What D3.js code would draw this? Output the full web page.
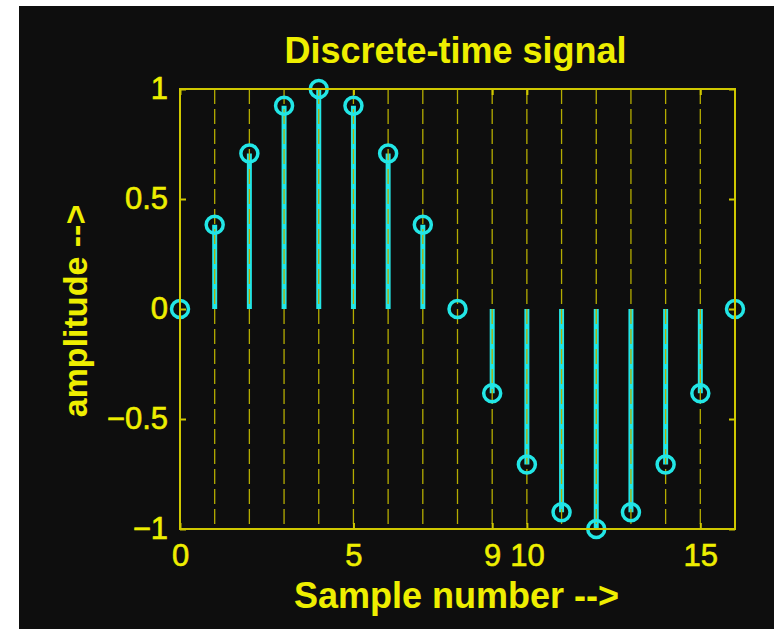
<!DOCTYPE html>
<html>
<head>
<meta charset="utf-8">
<script src="https://cdn.jsdelivr.net/npm/d3@7"></script>
<style>
body { margin: 0; background: #ffffff; }
svg { display: block; }
</style>
</head>
<body>
<div id="chart"></div>
<script>
// stem data
var samples = [0, 1, 2, 3, 4, 5, 6, 7, 8, 9, 10, 11, 12, 13, 14, 15, 16] ;
var amplitude = [0, 0.383, 0.707, 0.924, 1, 0.924, 0.707, 0.383, 0, -0.383, -0.707, -0.924, -1, -0.924, -0.707, -0.383, 0] ;
var xTickValues = [0, 5, 9, 10, 15] ;
var yTickValues = [-1, -0.5, 0, 0.5, 1] ;
var gridValues = [1, 2, 3, 4, 5, 6, 7, 8, 9, 10, 11, 12, 13, 14, 15] ;

var W = 774, H = 629 ;
var fontFamily = "'Liberation Sans', Arial, sans-serif" ;
var textColor = "#eeee00" ;
var axisColor = "#cfc800" ;
var gridColor = "#b4ac00" ;
var stemColor = "#22e6e6" ;

var svg = d3.select("#chart").append("svg")
    .attr("width", W)
    .attr("height", H) ;

//black figure background
svg.append("rect")
    .attr("x", 19)
    .attr("y", 6)
    .attr("width", W-19)
    .attr("height", H-6)
    .attr("fill", "#0e0e0e") ;

var axLeft = 180, axRight = 735, axTop = 89, axBottom = 529 ;

var x = d3.scaleLinear().domain([0, 16]).range([axLeft, axRight]) ;
var y = d3.scaleLinear().domain([-1, 1]).range([axBottom, axTop]) ;

//stems
svg.append("g").selectAll("line")
    .data(samples.filter(function(d, i) { return amplitude[i] != 0 ; }))
    .enter().append("line")
    .attr("x1", function(d) { return x(d) ; })
    .attr("x2", function(d) { return x(d) ; })
    .attr("y1", y(0))
    .attr("y2", function(d) { return y(amplitude[d]) ; })
    .attr("stroke", stemColor)
    .attr("stroke-width", 5) ;

//dashed grid, drawn over the stems like in the original
svg.append("g").selectAll("line")
    .data(gridValues)
    .enter().append("line")
    .attr("x1", function(d) { return x(d) ; })
    .attr("x2", function(d) { return x(d) ; })
    .attr("y1", axTop)
    .attr("y2", axBottom)
    .attr("stroke", gridColor)
    .attr("stroke-width", 1.3)
    .attr("stroke-dasharray", "15,5") ;

//markers
svg.append("g").selectAll("circle")
    .data(samples)
    .enter().append("circle")
    .attr("cx", function(d) { return x(d) ; })
    .attr("cy", function(d) { return y(amplitude[d]) ; })
    .attr("r", 8.5)
    .attr("fill", "none")
    .attr("stroke", stemColor)
    .attr("stroke-width", 3.5) ;

//axes
function style_axis(g, showLabels)
{
    g.select(".domain").remove() ;
    g.selectAll(".tick line")
	.attr("stroke", axisColor)
	.attr("stroke-width", 2) ;
    g.selectAll(".tick text")
	.attr("fill", textColor)
	.attr("font-family", fontFamily)
	.attr("font-size", "31px")
	.attr("stroke", textColor)
	.attr("stroke-width", 0.6)
	.style("display", showLabels ? null : "none") ;
}

function fmt(d)
{
    return String(d).replace("-", "\u2212") ;
}

svg.append("g")
    .attr("transform", "translate(0," + axBottom + ")")
    .call(d3.axisBottom(x).tickValues(xTickValues).tickSize(-6).tickPadding(15).tickFormat(fmt))
    .call(style_axis, true) ;

svg.append("g")
    .attr("transform", "translate(0," + axTop + ")")
    .call(d3.axisTop(x).tickValues(xTickValues).tickSize(-6))
    .call(style_axis, false) ;

svg.append("g")
    .attr("transform", "translate(" + axLeft + ",0)")
    .call(d3.axisLeft(y).tickValues(yTickValues).tickSize(-6).tickPadding(12).tickFormat(fmt))
    .call(style_axis, true) ;

svg.append("g")
    .attr("transform", "translate(" + axRight + ",0)")
    .call(d3.axisRight(y).tickValues(yTickValues).tickSize(-6))
    .call(style_axis, false) ;

svg.append("rect")
    .attr("x", axLeft)
    .attr("y", axTop)
    .attr("width", axRight-axLeft)
    .attr("height", axBottom-axTop)
    .attr("fill", "none")
    .attr("stroke", axisColor)
    .attr("stroke-width", 2) ;

//titles
svg.append("text")
    .attr("x", (axLeft+axRight)/2 - 2)
    .attr("y", 63)
    .attr("text-anchor", "middle")
    .attr("font-family", fontFamily)
    .attr("font-weight", "bold")
    .attr("font-size", "36px")
    .attr("fill", textColor)
    .text("Discrete-time signal") ;

svg.append("text")
    .attr("x", (axLeft+axRight)/2 - 1)
    .attr("y", 608)
    .attr("text-anchor", "middle")
    .attr("font-family", fontFamily)
    .attr("font-weight", "bold")
    .attr("font-size", "36px")
    .attr("fill", textColor)
    .text("Sample number -->") ;

svg.append("text")
    .attr("transform", "translate(87," + ((axTop+axBottom)/2+2) + ") rotate(-90)")
    .attr("text-anchor", "middle")
    .attr("font-family", fontFamily)
    .attr("font-weight", "bold")
    .attr("font-size", "34px")
    .attr("fill", textColor)
    .text("amplitude -->") ;
</script>
</body>
</html>
